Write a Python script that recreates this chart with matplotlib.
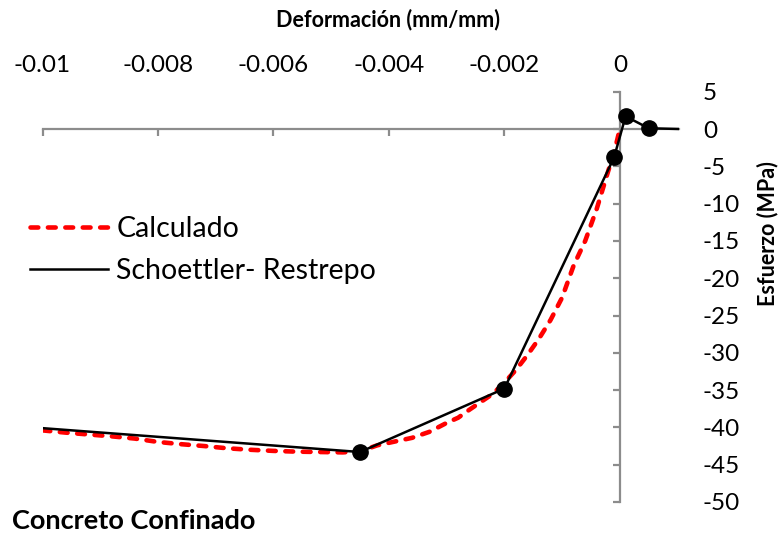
import matplotlib
matplotlib.use("Agg")
import matplotlib.pyplot as plt

# Modelo calculado (curva esfuerzo-deformación del concreto confinado)
strain_calc = [-0.0100, -0.0096, -0.0092, -0.0088, -0.0084, -0.0080, -0.0076,
               -0.0072, -0.0068, -0.0064, -0.0060, -0.0056, -0.0052, -0.0048,
               -0.0045, -0.0042, -0.0039, -0.0036, -0.0033, -0.0030, -0.0028,
               -0.0026, -0.0024, -0.0022, -0.0020, -0.0018, -0.0016, -0.0014,
               -0.0012, -0.0010, -0.0008, -0.0006, -0.0004, -0.0002, -0.0001,
               0.0]
stress_calc = [-40.4, -40.7, -40.95, -41.2, -41.5, -41.95, -42.25,
               -42.5, -42.8, -43.0, -43.15, -43.25, -43.3, -43.35,
               -43.2, -42.4, -41.9, -41.4, -40.6, -39.4, -38.7,
               -37.6, -36.55, -35.5, -34.0, -32.3, -30.3, -28.1,
               -25.6, -22.6, -18.3, -15.0, -10.7, -5.6, -3.2,
               0.0]

# Curva experimental Schoettler-Restrepo
strain_sr = [-0.0100, -0.0045, -0.0020, -0.0001, 0.0001, 0.0005, 0.00103]
stress_sr = [-40.1, -43.3, -34.8, -3.8, 1.7, 0.1, 0.0]

# Puntos característicos marcados
strain_pts = [-0.0045, -0.0020, -0.0001, 0.0001, 0.0005]
stress_pts = [-43.3, -34.8, -3.8, 1.7, 0.1]

x_ticks = [-0.010, -0.008, -0.006, -0.004, -0.002, 0.0]
x_tick_labels = ["-0.01", "-0.008", "-0.006", "-0.004", "-0.002", "0"]
y_ticks = [5, 0, -5, -10, -15, -20, -25, -30, -35, -40, -45, -50]
y_tick_labels = [str(v) for v in y_ticks]

plt.rcParams["font.family"] = ["Lato", "DejaVu Sans"]

W, H = 781, 535
fig = plt.figure(figsize=(W / 100, H / 100), dpi=100)
ax = fig.add_axes([42.5 / W, 1 - 502 / H, (679.3 - 42.5) / W, (502 - 91.7) / H])
ax.set_xlim(-0.010, 0.00103)
ax.set_ylim(-50, 5)

axis_gray = "#8c8c8c"
ax.spines["top"].set_visible(False)
ax.spines["right"].set_visible(False)
ax.spines["left"].set_position(("data", 0))
ax.spines["bottom"].set_position(("data", 0))
for side in ("left", "bottom"):
    ax.spines[side].set_color(axis_gray)
    ax.spines[side].set_linewidth(1.6)
ax.set_xticks(x_ticks)
ax.set_yticks(y_ticks)
ax.tick_params(axis="both", direction="out", length=5, width=1.6,
               color=axis_gray, labelbottom=False, labelleft=False)

ax.plot(strain_calc, stress_calc, color="#ff0000", lw=3.3,
        linestyle=(0, (1.7, 2.1)), dash_capstyle="round",
        label="Calculado", zorder=3)
ax.plot(strain_sr, stress_sr, color="black", lw=1.8,
        label="Schoettler- Restrepo", zorder=4)
ax.plot(strain_pts, stress_pts, "o", color="black", ms=11, zorder=5)

# Etiquetas de los ejes en los bordes superior y derecho
top = ax.secondary_xaxis("top")
top.set_xticks(x_ticks, labels=x_tick_labels)
top.tick_params(length=0, pad=11.5, labelsize=17.5)
top.spines["top"].set_visible(False)

right = ax.secondary_yaxis("right")
right.set_yticks(y_ticks, labels=y_tick_labels)
right.tick_params(length=0, pad=17, labelsize=17.5)
right.spines["right"].set_visible(False)

fig.text(388 / W, 1 - 20 / H, "Deformación (mm/mm)", ha="center",
         va="center", fontsize=15.5, fontweight="bold")
fig.text(768 / W, 1 - 234 / H, "Esfuerzo (MPa)", ha="center", va="center",
         rotation=90, fontsize=15.5, fontweight="bold")
fig.text(12 / W, 1 - 521 / H, "Concreto Confinado", ha="left", va="center",
         fontsize=19.5, fontweight="bold")

ax.legend(loc="center left", bbox_to_anchor=(30 / W, 1 - 250 / H),
          bbox_transform=fig.transFigure, frameon=False, fontsize=20.5,
          handlelength=2.75, handletextpad=0.28, labelspacing=0.55,
          borderpad=0, borderaxespad=0)

fig.savefig("out.png", dpi=100)
